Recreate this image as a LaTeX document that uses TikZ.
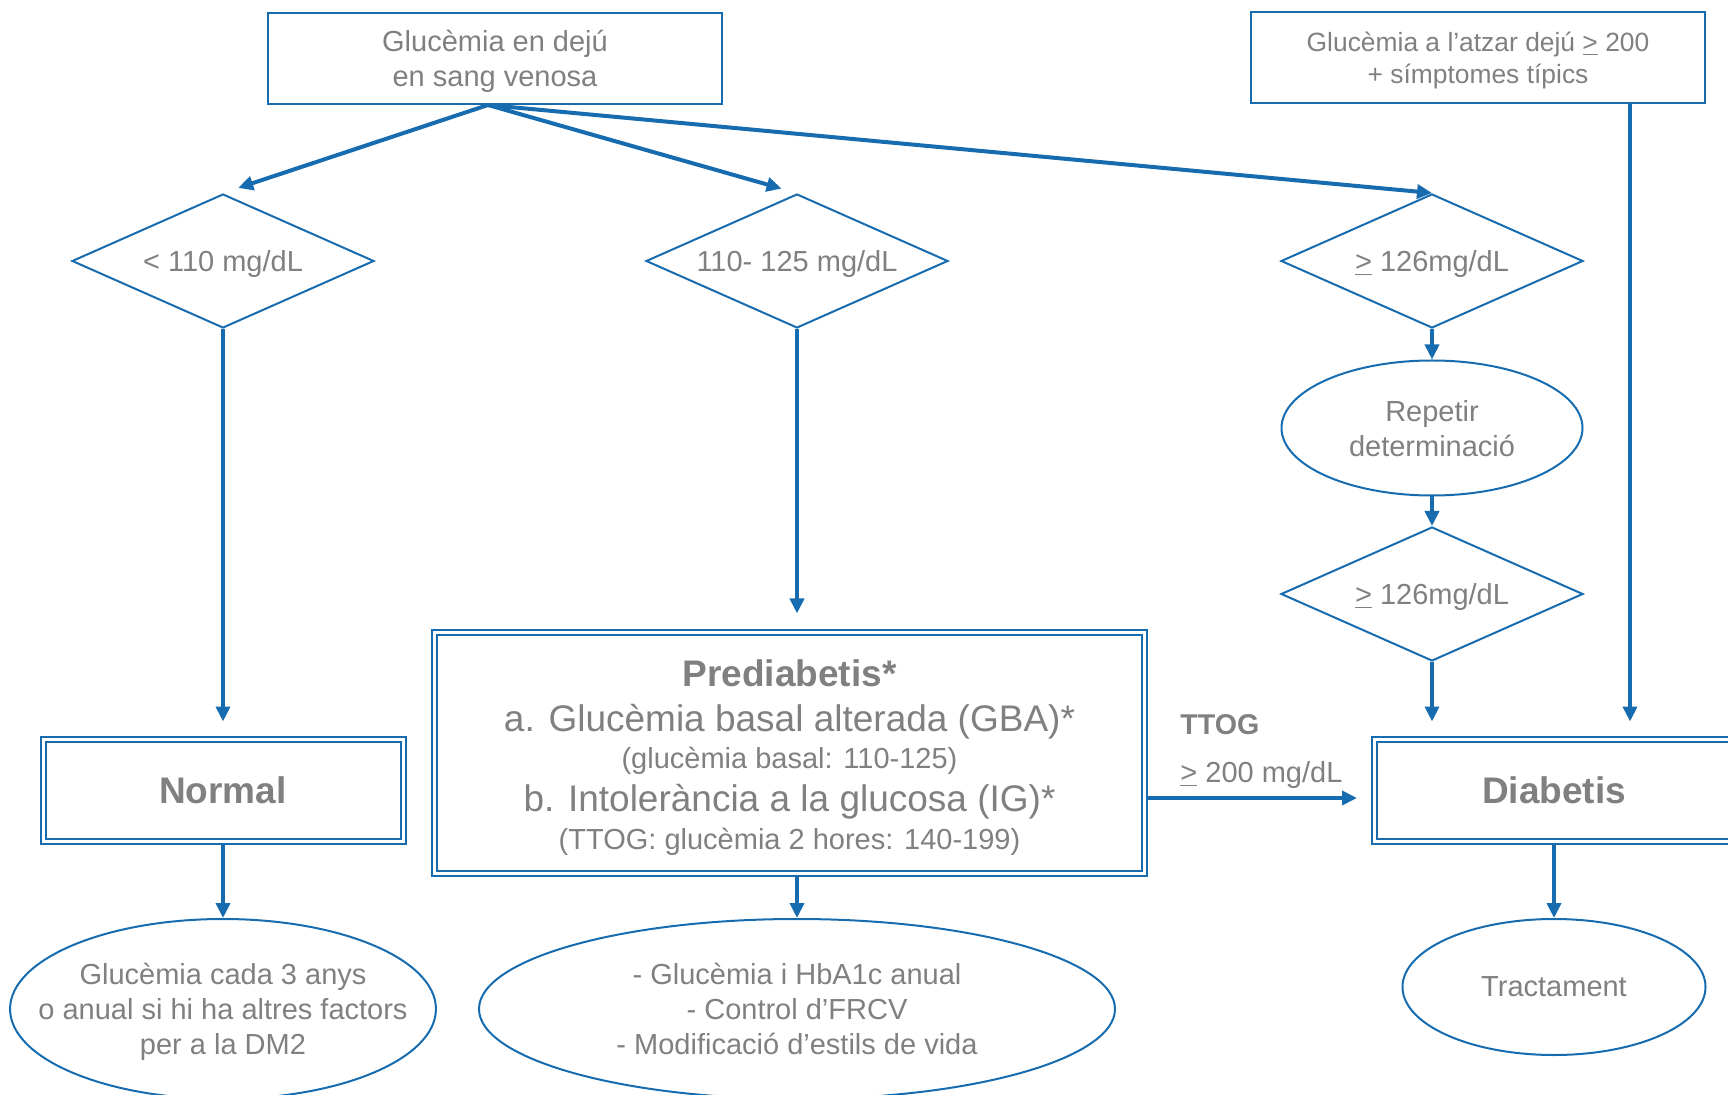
\documentclass[tikz,border=0pt]{standalone}
\usepackage{fontspec}
\setmainfont{Liberation Sans}
\usetikzlibrary{positioning, calc, shapes.geometric, arrows.meta}
\definecolor{FBlue}{RGB}{23,108,176}
\definecolor{FGray}{RGB}{128,128,128}

\begin{document}
\begin{tikzpicture}[x=0.5pt, y=-0.5pt,
      every node/.style={text=FGray, align=center, inner sep=2pt,
                         font=\fontsize{14.5}{17.5}\selectfont},
      qbox/.style={draw=FBlue, line width=1pt, rectangle, text depth=0pt,
                   minimum width=227pt, minimum height=45.5pt},
      cbox/.style={draw=FBlue, line width=1pt, diamond, aspect=2.25, inner sep=0pt,
                   text depth=0pt, minimum width=151pt, minimum height=67pt},
      obox/.style={draw=FBlue, line width=1pt, ellipse, inner sep=0pt, text depth=0pt},
      rbox/.style={draw=FBlue, line width=1pt, double=white, double distance=1.5pt,
                   text depth=0pt, minimum width=180pt, minimum height=51pt,
                   font=\fontsize{18.5}{22}\selectfont\bfseries},
      arr/.style={-{Triangle[length=7.5pt, width=7pt]}, line width=2pt, FBlue},
    ]
      \useasboundingbox (0,0) rectangle (1728,1095);
      \clip (0,0) rectangle (1728,1095);
      % Top row: the two starting measurements
      \node[qbox] (fast) at (495,58.5) {Glucèmia en dejú\\en sang venosa};
      \node[qbox, font=\fontsize{13.2}{16}\selectfont] (rand) at (1478,58)
        {Glucèmia a l’atzar dejú \underline{>} 200\\+ símptomes típics};
      % Decisions on the fasting value
      \node[cbox] (low) at (223,261) {< 110 mg/dL};
      \node[cbox] (mid) at (797,261) {110- 125 mg/dL};
      \node[cbox] (high) at (1432,261) {\underline{>} 126mg/dL};
      \node[obox, minimum width=150.5pt, minimum height=67.5pt] (rep) at (1432,428)
        {Repetir\\determinació};
      \node[cbox] (high2) at (1432,594) {\underline{>} 126mg/dL};
      % Results
      \node[rbox] (norm) at (223,790.5) {Normal};
      \node[rbox, minimum width=355pt, minimum height=120.5pt, text width=345pt, text depth=,
            align=flush center, font=\fontsize{18.5}{22}\selectfont] (pre) at (789.5,753) {%
        \rule{0pt}{18pt}\textbf{Prediabetis*}\par
        \fontsize{18.5}{22.5}\selectfont a. Glucèmia basal alterada (GBA)*\par
        \fontsize{14.5}{18.7}\selectfont (glucèmia basal: 110-125)\par
        \fontsize{18.5}{21.3}\selectfont b. Intolerància a la glucosa (IG)*\par
        \fontsize{14.5}{19.2}\selectfont (TTOG: glucèmia 2 hores: 140-199)\par};
      \node[rbox] (dia) at (1554,790.5) {Diabetis};
      % Bottom row: follow-up
      \node[obox, minimum width=212pt, minimum height=90pt, inner xsep=-17pt] (prev) at (223,1009)
        {Glucèmia cada 3 anys\\o anual si hi ha altres factors\\per a la DM2};
      \node[obox, minimum width=318pt, minimum height=90pt] (ctrl) at (797,1009)
        {- Glucèmia i HbA1c anual\\- Control d’FRCV\\- Modificació d’estils de vida};
      \node[obox, minimum width=151.5pt, minimum height=68pt] (treat) at (1554,987)
        {Tractament};
      % Arrows from the fasting test
      \coordinate (fastout) at ([xshift=-3.5pt]fast.south);
      \draw[arr, shorten >=8pt] (fastout) -- (low.north);
      \draw[arr, shorten >=8pt] (fastout) -- (mid.north);
      \draw[arr] (fastout) -- (high.north);
      \draw[arr, shorten >=8.5pt] (low.south) -- (norm.north);
      \draw[arr, shorten >=9pt] (mid.south) -- (mid.south |- pre.north);
      \draw[arr] (high.south) -- (rep.north);
      \draw[arr] (rep.south) -- (high2.north);
      \draw[arr, shorten >=8.5pt] (high2.south) -- (high2.south |- dia.north);
      \coordinate (randout) at ([xshift=76pt]rand.south);
      \draw[arr, shorten >=8.5pt] (randout) -- (randout |- dia.north);
      % TTOG arrow with its labels
      \draw[arr, shorten >=8pt] ($(pre.east |- dia.west)+(0,7.5)$) -- ($(dia.west)+(0,7.5)$);
      \node[anchor=west, font=\fontsize{14.3}{17}\selectfont\bfseries] (ttog) at (1176,725) {TTOG};
      \node[anchor=west] (ttogval) at (1176,775) {\underline{>} 200 mg/dL};
      % Arrows to the follow-up
      \draw[arr] (norm.south) -- (prev.north);
      \draw[arr] (pre.south -| ctrl.north) -- (ctrl.north);
      \draw[arr] (dia.south) -- (treat.north);
    \end{tikzpicture}
\end{document}
